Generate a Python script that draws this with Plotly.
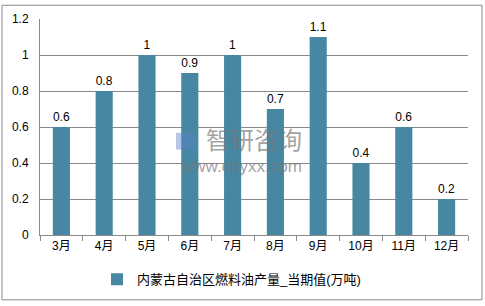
import plotly.graph_objects as go

months = ["3月", "4月", "5月", "6月", "7月", "8月", "9月", "10月", "11月", "12月"]
values = [0.6, 0.8, 1.0, 0.9, 1.0, 0.7, 1.1, 0.4, 0.6, 0.2]
value_labels = ["0.6", "0.8", "1", "0.9", "1", "0.7", "1.1", "0.4", "0.6", "0.2"]
series_name = "内蒙古自治区燃料油产量_当期值(万吨)"
y_ticks = [0, 0.2, 0.4, 0.6, 0.8, 1.0, 1.2]
y_tick_text = ["0", "0.2", "0.4", "0.6", "0.8", "1", "1.2"]

W, H = 485, 306
L, R, T, B = 40, 17, 16, 70
pw, ph = W - L - R, H - T - B

FONT = "Liberation Sans, Noto Sans CJK SC, sans-serif"

fig = go.Figure()
fig.add_trace(go.Bar(
    x=months, y=values, name=series_name,
    marker=dict(color="#4787A2", line=dict(width=0)),
    text=value_labels, textposition="outside",
    textfont=dict(size=12, color="#000000", family=FONT),
    cliponaxis=False,
))

def px_x(v):
    return (v - L) / pw

def px_y(v):
    return (H - B - v) / ph

fig.add_shape(type="rect", xref="paper", yref="paper",
              x0=px_x(2), x1=px_x(482), y0=px_y(2), y1=px_y(302),
              line=dict(color="#8a8a8a", width=1), layer="below")

# watermark
wm = "rgba(120,120,120,0.7)"
fig.add_annotation(xref="paper", yref="paper", x=px_x(254), y=px_y(140),
                   xanchor="center", yanchor="middle",
                   text="智研咨询", showarrow=False,
                   font=dict(size=24, color=wm, family=FONT))
fig.add_annotation(xref="paper", yref="paper", x=px_x(241), y=px_y(166),
                   xanchor="center", yanchor="middle",
                   text="www.chyxx.com", showarrow=False,
                   font=dict(size=17, color=wm, family=FONT))
fig.add_shape(type="rect", xref="paper", yref="paper",
              x0=px_x(176), x1=px_x(196), y0=px_y(132), y1=px_y(149),
              line=dict(width=0), fillcolor="rgba(90,130,200,0.45)")

fig.update_layout(
    width=W, height=H,
    margin=dict(l=L, r=R, t=T, b=B),
    paper_bgcolor="white", plot_bgcolor="white",
    bargap=0.6,
    font=dict(family=FONT, size=12, color="#000000"),
    showlegend=True,
    legend=dict(orientation="h", x=px_x(97), xanchor="left", y=px_y(281), yanchor="middle",
                font=dict(size=13, family=FONT), itemwidth=30),
    xaxis=dict(type="category", showgrid=False, showline=True, linecolor="#8a8a8a",
               ticks="outside", tickson="boundaries", ticklen=5, tickcolor="#8a8a8a",
               tickfont=dict(size=12)),
    yaxis=dict(range=[0, 1.2], tickvals=y_ticks, ticktext=y_tick_text,
               showgrid=True, gridcolor="#8a8a8a", gridwidth=1,
               showline=True, linecolor="#8a8a8a", zeroline=False,
               ticks="", ticklabelstandoff=8, tickfont=dict(size=12)),
)

fig.write_html("out.html")
